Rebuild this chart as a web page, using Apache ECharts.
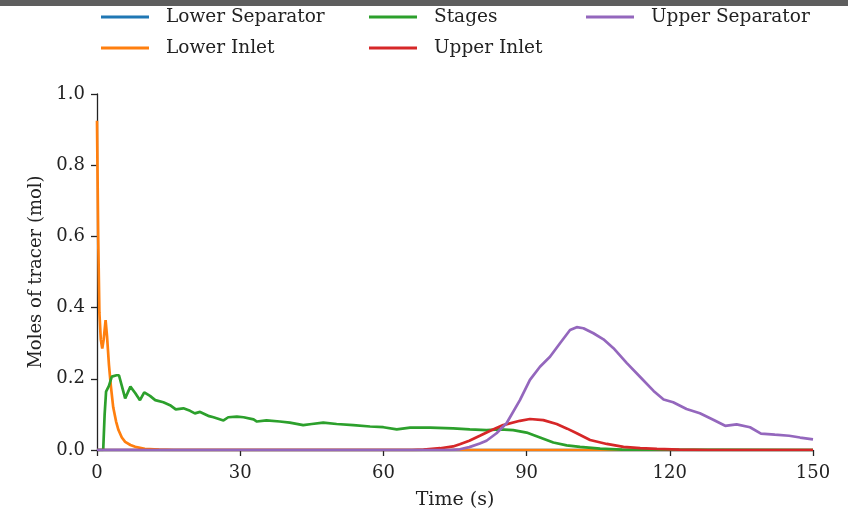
<!DOCTYPE html>
<html>
<head>
<meta charset="utf-8">
<script src="https://cdn.jsdelivr.net/npm/echarts@6/dist/echarts.min.js"></script>
<style>
html,body{margin:0;padding:0;background:#fff;}
#c{width:848px;height:516px;}
</style>
</head>
<body>
<div id="c"></div>
<script>
// ---- data ----
const seriesNames = ['Lower Separator', 'Lower Inlet', 'Stages', 'Upper Inlet', 'Upper Separator'];
const xTicks = [0, 30, 60, 90, 120, 150];
const yTicks = [0.0, 0.2, 0.4, 0.6, 0.8, 1.0];

const lowerSepT = [0, 30, 60, 90, 120, 150];
const lowerSepV = [0, 0, 0, 0, 0, 0];

const lowerInletT = [0, 0.25, 0.5, 0.8, 1.1, 1.4, 1.8, 2.1, 2.5, 2.9, 3.4, 4.0, 4.5, 5.2, 5.9, 7, 8, 10, 13, 16, 150];
const lowerInletV = [0.925, 0.6, 0.385, 0.31, 0.285, 0.31, 0.365, 0.32, 0.24, 0.18, 0.12, 0.08, 0.056, 0.035, 0.023, 0.014, 0.009, 0.003, 0.001, 0, 0];

const stagesT = [0, 1.3, 1.6, 1.9, 2.5, 3.1, 4.1, 4.6, 5.2, 5.9, 7.0, 8.0, 9.0, 9.9, 11.1, 12.2, 13.9, 15.3, 16.5, 18.1, 19.5, 20.5, 21.6, 23.5, 24.4, 26.5, 27.5, 29.3, 30.7, 32.8, 33.5, 35.5, 38.3, 40.4, 43.2, 45, 47.4, 50.2, 53.7, 57.2, 60, 62.8, 65.6, 69.8, 74.6, 78.1, 81.6, 84.4, 87.2, 90, 92.8, 95.6, 98.4, 101.2, 105.4, 110, 150];
const stagesV = [0, 0, 0.1, 0.164, 0.18, 0.206, 0.21, 0.21, 0.18, 0.145, 0.178, 0.16, 0.14, 0.162, 0.152, 0.14, 0.134, 0.126, 0.114, 0.117, 0.11, 0.103, 0.107, 0.095, 0.092, 0.083, 0.092, 0.094, 0.092, 0.086, 0.08, 0.083, 0.08, 0.077, 0.07, 0.073, 0.077, 0.073, 0.07, 0.066, 0.064, 0.058, 0.063, 0.063, 0.061, 0.058, 0.056, 0.058, 0.056, 0.049, 0.035, 0.021, 0.013, 0.009, 0.004, 0.001, 0];

const upperInletT = [0, 66, 68.4, 71.9, 74.6, 76, 78, 80.2, 82.5, 85.1, 88.6, 90.7, 93.5, 96.3, 98.5, 100.5, 103.3, 106.8, 110.3, 113.8, 117.3, 122, 128, 150];
const upperInletV = [0, 0, 0.001, 0.005, 0.01, 0.016, 0.026, 0.04, 0.055, 0.07, 0.082, 0.087, 0.084, 0.073, 0.06, 0.047, 0.028, 0.017, 0.009, 0.005, 0.003, 0.001, 0, 0];

const upperSepT = [0, 74, 76, 78, 80.2, 81.6, 83.7, 85.8, 88.6, 90.7, 92.8, 94.9, 97, 99.1, 100.5, 101.9, 104, 106.1, 108.2, 111, 113.8, 116.6, 118.7, 120.7, 123.5, 126.3, 129.1, 131.6, 134, 136.8, 139.1, 142, 145, 147.3, 150];
const upperSepV = [0, 0, 0.002, 0.008, 0.018, 0.026, 0.047, 0.075, 0.14, 0.197, 0.234, 0.262, 0.3, 0.337, 0.345, 0.342, 0.328, 0.311, 0.286, 0.244, 0.205, 0.166, 0.142, 0.134, 0.115, 0.103, 0.085, 0.068, 0.072, 0.064, 0.046, 0.043, 0.04, 0.035, 0.03];

const colors = ['#1f77b4', '#ff7f0e', '#2ca02c', '#d62728', '#9467bd'];

function pairs(t, v) { return t.map((x, i) => [x, v[i]]); }
const allData = [
  pairs(lowerSepT, lowerSepV),
  pairs(lowerInletT, lowerInletV),
  pairs(stagesT, stagesV),
  pairs(upperInletT, upperInletV),
  pairs(upperSepT, upperSepV)
];

const FONT = 'DejaVu Serif';
const TXT = '#222';

function mkLegend(names, left) {
  return {
    data: names,
    orient: 'vertical',
    left: left,
    top: 5,
    padding: 0,
    icon: 'rect',
    itemWidth: 48,
    itemHeight: 3,
    itemGap: 7,
    textStyle: { fontFamily: FONT, fontSize: 18.5, color: TXT, lineHeight: 24, padding: [0, 0, 0, 12] }
  };
}

const chart = echarts.init(document.getElementById('c'), null, { renderer: 'canvas' });
chart.setOption({
  animation: false,
  backgroundColor: '#fff',
  color: colors,
  graphic: [{ type: 'rect', shape: { x: 0, y: 0, width: 848, height: 6 }, style: { fill: '#5e5e5e' }, z: 100 }],
  legend: [
    mkLegend([seriesNames[0], seriesNames[1]], 101),
    mkLegend([seriesNames[2], seriesNames[3]], 369),
    mkLegend([seriesNames[4]], 586)
  ],
  grid: { left: 97, right: 35, top: 94, bottom: 66 },
  xAxis: {
    type: 'value', min: xTicks[0], max: xTicks[xTicks.length - 1], interval: 30,
    name: 'Time (s)', nameLocation: 'middle', nameGap: 41,
    nameTextStyle: { fontFamily: FONT, fontSize: 19, color: TXT },
    splitLine: { show: false },
    axisLine: { lineStyle: { color: '#222', width: 1.3 } },
    axisTick: { show: true, inside: false, length: 6, lineStyle: { color: '#222', width: 1.3 } },
    axisLabel: { fontFamily: FONT, fontSize: 18, color: TXT, margin: 14 }
  },
  yAxis: {
    type: 'value', min: yTicks[0], max: yTicks[yTicks.length - 1], interval: 0.2,
    name: 'Moles of tracer (mol)', nameLocation: 'middle', nameGap: 52, nameRotate: 90,
    nameTextStyle: { fontFamily: FONT, fontSize: 18, color: TXT },
    splitLine: { show: false },
    axisLine: { show: true, lineStyle: { color: '#222', width: 1.3 } },
    axisTick: { show: true, inside: false, length: 6, lineStyle: { color: '#222', width: 1.3 } },
    axisLabel: { fontFamily: FONT, fontSize: 18, color: TXT, margin: 12, formatter: v => v.toFixed(1) }
  },
  series: seriesNames.map((n, i) => ({
    name: n, type: 'line', data: allData[i], showSymbol: false, symbol: 'none',
    lineStyle: { width: 2.7, color: colors[i] }, itemStyle: { color: colors[i] },
    clip: true
  }))
});
</script>
</body>
</html>
